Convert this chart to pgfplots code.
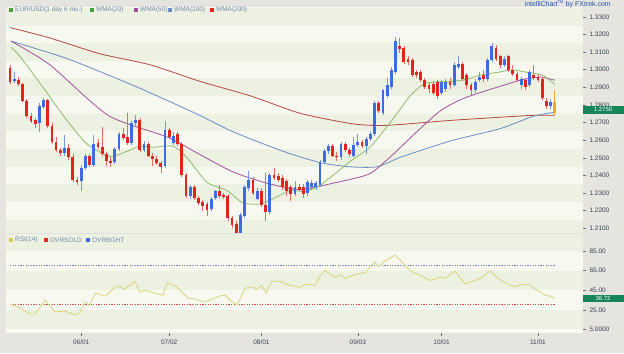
\documentclass[border=0pt]{standalone}
\usepackage{pgfplots}
\pgfplotsset{compat=1.18}
\usepackage{pgfplotstable}
\usepackage{fontspec}
\setmainfont{Liberation Sans}

\definecolor{bggray}{HTML}{E6E4DF}
\definecolor{stripeL}{HTML}{F7F9F1}
\definecolor{stripeD}{HTML}{ECF1E1}
\definecolor{cred}{HTML}{E2231E}
\definecolor{cblue}{HTML}{3E6AE6}
\definecolor{wred}{HTML}{E46A66}
\definecolor{wblue}{HTML}{7A96E2}
\definecolor{corange}{HTML}{F4A62A}
\definecolor{ma20}{HTML}{8CBD6B}
\definecolor{ma50}{HTML}{A2509E}
\definecolor{ma100}{HTML}{6A8CC8}
\definecolor{ma200}{HTML}{B5493E}
\definecolor{rsicol}{HTML}{DCD27C}
\definecolor{obcol}{HTML}{6478D0}
\definecolor{oscol}{HTML}{DA4A3C}
\definecolor{labcol}{HTML}{34445A}
\definecolor{legcol}{HTML}{6C8AB2}
\definecolor{tagg}{HTML}{17855A}
\definecolor{brand}{HTML}{2452A8}
\definecolor{tickcol}{HTML}{707070}
\definecolor{legyel}{HTML}{D8CC50}
\definecolor{legg}{HTML}{4AA03E}

\newcommand\sm{\fontsize{6.5}{7.5}\selectfont}

% up (blue) candles: index open high low close
\pgfplotstableread{
i o h l c
1 1.2934 1.2987 1.2923 1.2946
7 1.2700 1.2812 1.2648 1.2794
8 1.2788 1.2841 1.2776 1.2829
13 1.2525 1.2630 1.2513 1.2554
17 1.2367 1.2461 1.2314 1.2443
18 1.2443 1.2519 1.2432 1.2508
20 1.2461 1.2630 1.2449 1.2578
25 1.2478 1.2560 1.2467 1.2548
26 1.2548 1.2648 1.2537 1.2636
29 1.2583 1.2706 1.2572 1.2695
30 1.2695 1.2741 1.2677 1.2712
32 1.2543 1.2595 1.2531 1.2578
37 1.2455 1.2706 1.2443 1.2659
39 1.2583 1.2648 1.2572 1.2624
43 1.2285 1.2344 1.2268 1.2332
48 1.2209 1.2279 1.2197 1.2268
49 1.2273 1.2320 1.2262 1.2309
55 1.2074 1.2186 1.2063 1.2174
56 1.2168 1.2344 1.2156 1.2332
57 1.2326 1.2426 1.2309 1.2373
59 1.2268 1.2326 1.2262 1.2314
62 1.2191 1.2414 1.2180 1.2402
68 1.2297 1.2367 1.2285 1.2332
71 1.2303 1.2373 1.2285 1.2361
72 1.2332 1.2373 1.2320 1.2356
73 1.2332 1.2367 1.2320 1.2356
74 1.2344 1.2490 1.2332 1.2478
75 1.2478 1.2548 1.2467 1.2537
76 1.2537 1.2578 1.2519 1.2566
79 1.2502 1.2589 1.2490 1.2578
82 1.2513 1.2618 1.2502 1.2572
83 1.2572 1.2636 1.2560 1.2589
85 1.2566 1.2618 1.2519 1.2607
86 1.2607 1.2654 1.2595 1.2636
87 1.2636 1.2823 1.2624 1.2812
89 1.2753 1.2893 1.2741 1.2882
90 1.2852 1.2952 1.2841 1.2911
91 1.2899 1.3016 1.2888 1.2999
92 1.2987 1.3186 1.2975 1.3162
103 1.2870 1.2940 1.2858 1.2929
104 1.2888 1.2946 1.2876 1.2929
106 1.2911 1.3046 1.2899 1.3028
107 1.3016 1.3075 1.3005 1.3034
111 1.2882 1.2946 1.2870 1.2929
112 1.2940 1.2987 1.2929 1.2958
114 1.2946 1.3069 1.2934 1.3057
115 1.3057 1.3151 1.3046 1.3133
118 1.3028 1.3075 1.3016 1.3063
122 1.2911 1.2958 1.2888 1.2946
124 1.2911 1.2999 1.2899 1.2987
129 1.2794 1.2835 1.2776 1.2817
}\upT

% down (red) candles
\pgfplotstableread{
i o h l c
0 1.3010 1.3028 1.2917 1.2929
2 1.2940 1.2958 1.2905 1.2917
3 1.2917 1.2923 1.2817 1.2823
4 1.2823 1.2835 1.2724 1.2735
5 1.2735 1.2753 1.2695 1.2706
6 1.2712 1.2724 1.2671 1.2689
9 1.2829 1.2835 1.2671 1.2683
10 1.2683 1.2695 1.2578 1.2589
11 1.2589 1.2618 1.2531 1.2543
12 1.2543 1.2554 1.2508 1.2525
14 1.2554 1.2578 1.2490 1.2502
15 1.2502 1.2519 1.2361 1.2373
16 1.2373 1.2391 1.2344 1.2361
19 1.2508 1.2519 1.2449 1.2461
21 1.2583 1.2607 1.2548 1.2560
22 1.2560 1.2677 1.2508 1.2519
23 1.2519 1.2531 1.2455 1.2484
24 1.2484 1.2502 1.2449 1.2473
27 1.2636 1.2671 1.2601 1.2613
28 1.2618 1.2753 1.2572 1.2583
31 1.2712 1.2724 1.2531 1.2543
33 1.2578 1.2589 1.2502 1.2513
34 1.2513 1.2525 1.2455 1.2496
35 1.2496 1.2508 1.2461 1.2473
36 1.2473 1.2484 1.2414 1.2449
38 1.2659 1.2671 1.2607 1.2618
40 1.2636 1.2648 1.2566 1.2578
41 1.2578 1.2589 1.2391 1.2402
42 1.2402 1.2414 1.2273 1.2285
44 1.2332 1.2344 1.2262 1.2273
45 1.2273 1.2285 1.2232 1.2244
46 1.2250 1.2262 1.2197 1.2227
47 1.2238 1.2250 1.2168 1.2203
50 1.2309 1.2344 1.2273 1.2285
51 1.2291 1.2303 1.2268 1.2279
52 1.2285 1.2297 1.2144 1.2156
53 1.2156 1.2168 1.2104 1.2121
54 1.2127 1.2139 1.2057 1.2074
58 1.2373 1.2391 1.2291 1.2303
60 1.2314 1.2326 1.2221 1.2232
61 1.2232 1.2414 1.2139 1.2191
63 1.2402 1.2443 1.2373 1.2385
64 1.2396 1.2414 1.2361 1.2373
65 1.2385 1.2402 1.2320 1.2332
66 1.2367 1.2379 1.2285 1.2309
67 1.2332 1.2344 1.2256 1.2297
69 1.2332 1.2350 1.2309 1.2320
70 1.2332 1.2350 1.2273 1.2297
77 1.2566 1.2578 1.2502 1.2513
78 1.2513 1.2531 1.2484 1.2502
80 1.2578 1.2589 1.2531 1.2543
81 1.2543 1.2554 1.2502 1.2519
84 1.2589 1.2601 1.2554 1.2566
88 1.2812 1.2823 1.2753 1.2765
93 1.3133 1.3180 1.3092 1.3116
94 1.3122 1.3133 1.3034 1.3046
95 1.3063 1.3075 1.3028 1.3046
96 1.3057 1.3069 1.2958 1.2969
97 1.2987 1.2999 1.2952 1.2969
98 1.2987 1.2999 1.2929 1.2940
99 1.2940 1.2952 1.2888 1.2899
100 1.2911 1.2923 1.2870 1.2888
101 1.2917 1.2934 1.2858 1.2870
102 1.2929 1.2940 1.2835 1.2852
105 1.2929 1.2952 1.2893 1.2911
108 1.3034 1.3046 1.2934 1.2946
109 1.2969 1.2981 1.2893 1.2911
110 1.2911 1.2923 1.2858 1.2882
113 1.2969 1.2999 1.2929 1.2946
116 1.3122 1.3139 1.3051 1.3063
117 1.3075 1.3086 1.3010 1.3028
119 1.3075 1.3086 1.2987 1.2999
120 1.2999 1.3028 1.2964 1.2975
121 1.2975 1.2987 1.2929 1.2940
123 1.2940 1.2952 1.2882 1.2899
125 1.2969 1.3028 1.2940 1.2952
126 1.2958 1.2975 1.2929 1.2940
127 1.2946 1.2958 1.2829 1.2841
128 1.2823 1.2841 1.2776 1.2794
}\dnT

% current (unfinished) candle
\pgfplotstableread{
i o h l c
130 1.2817 1.2882 1.2741 1.2753
}\lastT

\pgfplotstableread{
i v
0.24 1.3127
2.4 1.3075
7.9 1.2899
13.6 1.2712
18.4 1.2578
23.9 1.2508
27.9 1.2537
31 1.2566
34.1 1.2560
38.9 1.2566
42.2 1.2502
47 1.2361
51.8 1.2314
55.6 1.2244
59.7 1.2238
62.8 1.2268
66.8 1.2314
70.4 1.2309
74 1.2344
81.1 1.2478
85.9 1.2560
90 1.2677
92.4 1.2753
95.5 1.2852
98.6 1.2917
101 1.2929
105.7 1.2934
109.1 1.2946
112.2 1.2969
116.9 1.2987
119.8 1.2999
122.9 1.2987
127 1.2969
130 1.2917
}\wmaA

\pgfplotstableread{
i v
0.24 1.3162
9.5 1.3028
23.4 1.2741
37.5 1.2618
45.3 1.2519
53.2 1.2420
61.3 1.2356
69.2 1.2320
77.1 1.2356
83.5 1.2391
86.6 1.2420
91.4 1.2519
97.1 1.2648
102.6 1.2765
107.4 1.2829
112.2 1.2870
116.9 1.2905
121.7 1.2940
126.5 1.2958
130 1.2940
}\wmaB

\pgfplotstableread{
i v
0.24 1.3162
13.6 1.3063
29.4 1.2911
44.2 1.2753
53.2 1.2648
65.2 1.2537
74 1.2473
81.1 1.2449
87.6 1.2449
93.1 1.2502
105 1.2595
116.9 1.2665
124.8 1.2735
130 1.2759
}\wmaC

\pgfplotstableread{
i v
0 1.3239
9.5 1.3180
21.5 1.3090
33.4 1.3028
45.3 1.2934
57.3 1.2852
69.2 1.2753
81.1 1.2695
87.6 1.2683
93.1 1.2689
105 1.2712
116.9 1.2730
124.8 1.2741
130 1.2741
}\wmaD

\pgfplotstableread{
i v
0 30.6
2.4 27
4.8 20.7
6 20.7
8.4 35
10.7 22.8
13.1 23.8
15.5 19.7
16.7 21.7
17.9 33
19.1 30
20.3 42
22.7 39
25.1 48
26.3 49
27.4 46
29.8 54.4
31 43
32.2 45
34.6 42
36.5 40
37.5 53
38.7 50
39.4 50
40.6 45
42.5 37
44.2 36
46.5 33
50.1 39
51.3 40
53 33
54.2 30
56.1 47
57.8 48.5
58.9 46
60.1 50
61.1 42
62.5 54.4
64.4 54
66.8 50
69.2 48
70.4 51
72.8 50
74 60
75.2 65
77.6 58
78.8 61
80 57
82.3 61
84.7 63
87.1 74
87.8 69
89.5 75
91.9 80.6
93.1 76
94.3 70
95.5 65
97.9 60
100.2 55
102.6 58
103.8 57
106.2 64.5
107.4 58
108.6 51.7
111 55
112.6 58
114.6 65
116.2 58
118.1 52.7
120.5 48.6
122.2 51
124.1 50
125.8 45
127.7 40
128.9 39
130 36.72
}\rsiT

\pgfplotsset{
  chartbase/.style={
    scale only axis,
    xmin=-0.955, xmax=136.75,
    axis line style={draw=none},
    axis background/.style={fill=stripeL},
    ytick pos=right, yticklabel pos=right,
    tick align=outside, major tick length=3bp,
    tick style={draw=tickcol, line width=0.4bp},
    ticklabel style={font=\sm, text=labcol},
    clip=true,
  },
  wick/.style={forget plot, only marks, mark=*, mark size=0pt,
    mark options={draw=none, fill=none},
    error bars/.cd, y dir=plus, y explicit, error mark=none,
    error bar style={line width=0.7bp, draw=#1, solid}},
  body/.style={forget plot, only marks, mark=*, mark size=0pt,
    mark options={draw=none, fill=none},
    error bars/.cd, y dir=plus, y explicit, error mark=none,
    error bar style={line width=2.8bp, draw=#1, solid}},
}

\begin{document}
\begin{tikzpicture}[x=1bp,y=1bp]
\useasboundingbox (0,0) rectangle (624,353);
\fill[bggray] (0,0) rectangle (624,353);

% ---------------- price panel ----------------
\begin{axis}[chartbase,
  at={(6bp,120bp)}, anchor=south west,
  width=577bp, height=226bp,
  ymin=1.20734, ymax=1.33556,
  xtick=\empty,
  ytick={1.21,1.22,1.23,1.24,1.25,1.26,1.27,1.28,1.29,1.30,1.31,1.32,1.33},
  yticklabels={1.2100,1.2200,1.2300,1.2400,1.2500,1.2600,1.2700,1.2800,1.2900,1.3000,1.3100,1.3200,1.3300},
]
\pgfplotsinvokeforeach{21,23,25,27,29,31,33}{
  \fill[stripeD] (axis cs:-5,{(#1-0.5)/100+1}) rectangle (axis cs:140,{(#1+0.5)/100+1});
}
% moving averages
\addplot[ma200, line width=0.8bp, smooth, tension=0.4] table[x=i,y=v] {\wmaD};
\addplot[ma100, line width=0.8bp, smooth, tension=0.4] table[x=i,y=v] {\wmaC};
\addplot[ma50, line width=0.8bp, smooth, tension=0.4] table[x=i,y=v] {\wmaB};
\addplot[ma20, line width=0.8bp, smooth, tension=0.4] table[x=i,y=v] {\wmaA};
% wicks
\addplot[wick=wblue] table[x=i, y=l, y error expr=\thisrow{h}-\thisrow{l}] {\upT};
\addplot[wick=wred] table[x=i, y=l, y error expr=\thisrow{h}-\thisrow{l}] {\dnT};
\addplot[wick=corange] table[x=i, y=l, y error expr=\thisrow{h}-\thisrow{l}] {\lastT};
% bodies
\addplot[body=cblue] table[x=i, y=o, y error expr=\thisrow{c}-\thisrow{o}] {\upT};
\addplot[body=cred] table[x=i, y=c, y error expr=\thisrow{o}-\thisrow{c}] {\dnT};
\addplot[body=corange] table[x=i, y=c, y error expr=\thisrow{o}-\thisrow{c}] {\lastT};
\end{axis}

% ---------------- RSI panel ----------------
\begin{axis}[chartbase,
  at={(6bp,20bp)}, anchor=south west,
  width=577bp, height=99bp,
  ymin=1.33, ymax=102.35,
  xtick={17,38,60,83,103,126},
  xticklabels={06/01,07/02,08/01,09/03,10/01,11/01},
  xtick pos=left,
  ytick={5,25,45,65,85},
  yticklabels={5.0000,25.00,45.00,65.00,85.00},
]
\pgfplotsinvokeforeach{15,55,95}{
  \fill[stripeD] (axis cs:-5,{#1-10}) rectangle (axis cs:140,{#1+10});
}
\addplot[obcol, line width=1bp, dash pattern=on 1.2bp off 1.4bp] coordinates {(0,70) (130,70)};
\addplot[oscol, line width=1bp, dash pattern=on 1.2bp off 1.4bp] coordinates {(0,30) (130,30)};
\addplot[rsicol, line width=0.8bp] table[x=i,y=v] {\rsiT};
\end{axis}

% separator between panels
\draw[black!12, line width=0.6bp] (6,119.5) -- (583,119.5);

% legends
\begin{scope}[every node/.style={font=\sm, text=legcol, inner sep=0pt, anchor=west}]
\fill[legg] (9,341) rectangle (13,345); \node at (15,343) {EUR/USD(1 day 6 mo.)};
\fill[legg] (90,341) rectangle (94,345); \node at (96,343) {WMA(20)};
\fill[ma50] (134,341) rectangle (138,345); \node at (140,343) {WMA(50)};
\fill[ma100] (168,341) rectangle (172,345); \node at (174,343) {WMA(100)};
\fill[cred] (210,341) rectangle (214,345); \node at (216,343) {WMA(200)};
\fill[legyel] (9,111) rectangle (13,115); \node at (15,113) {RSI(14)};
\fill[cred] (44,111) rectangle (48,115); \node at (50,113) {OVRSOLD};
\fill[cblue] (86,111) rectangle (90,115); \node at (92,113) {OVRBGHT};
\end{scope}

\node[anchor=east, inner sep=0pt, font=\fontsize{7}{8}\selectfont, text=brand] at (611,349) {intelliChart\textsuperscript{\fontsize{4}{4}\selectfont TM} by FXtrek.com};

% last-value tags
\fill[tagg] (583,239.5) rectangle (624,247.5);
\node[inner sep=0pt, font=\fontsize{6}{6}\selectfont, text=white] at (603,243.3) {1.2750};
\fill[tagg] (583,51) rectangle (624,58.5);
\node[inner sep=0pt, font=\fontsize{6}{6}\selectfont, text=white] at (603,54.6) {36.72};
\end{tikzpicture}
\end{document}
